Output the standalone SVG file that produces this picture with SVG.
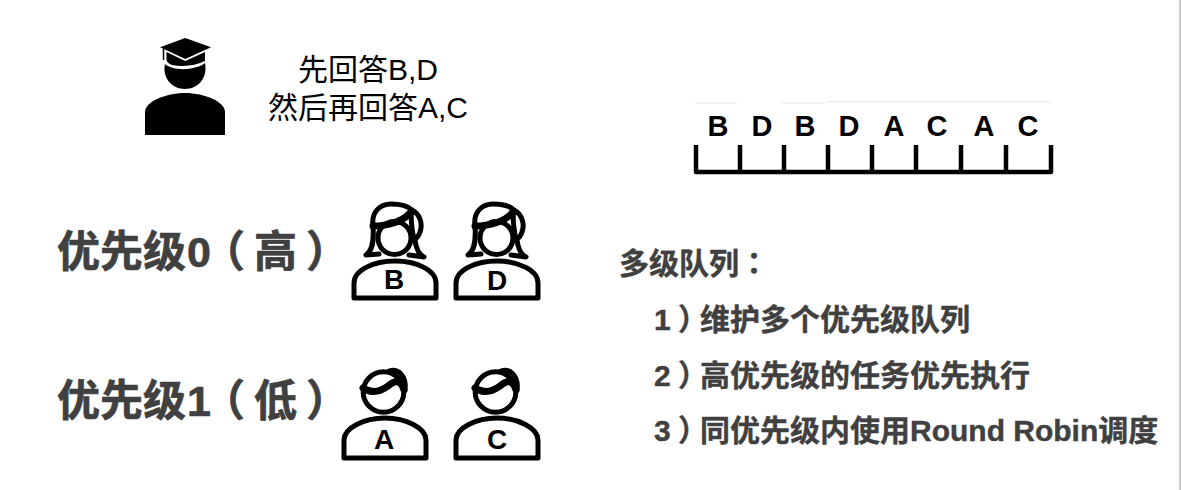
<svg xmlns="http://www.w3.org/2000/svg" width="1181" height="490" viewBox="0 0 1181 490">
<style>
text{font-family:"Liberation Sans","Noto Sans CJK SC",sans-serif}
.q{font-size:30px;fill:#000}
.big{font-size:43px;font-weight:700;fill:#404040;stroke:#404040;stroke-width:.7}
.mid{font-size:30px;font-weight:700;fill:#404040;stroke:#404040;stroke-width:.4}
.tag{font-size:28px;font-weight:700;fill:#000;text-anchor:middle}
.cell{font-size:29px;font-weight:700;fill:#000;text-anchor:middle}
.ol{fill:none;stroke:#000;stroke-width:5;stroke-linejoin:round;stroke-linecap:round}
.hair{fill:none;stroke:#000;stroke-width:5;stroke-linejoin:round;stroke-linecap:round}
.band{fill:none;stroke:#000;stroke-width:7;stroke-linejoin:round;stroke-linecap:round}
</style>
<defs>
<g id="woman">
<path class="ol" d="M354 298V283C354 270 374 261 395 261C416 261 436 270 436 283V298Z"/>
<circle class="ol" cx="394.500" cy="238" r="16.500"/>
<path class="band" d="M373 226C387 226 403 222 411 212"/>
<path class="hair" d="M373 226C371 211 381 204 391 204C400 204 407 205 412 210C420 214 423 224 420 232C419 236 417 238 414 240M412 210C410 218 412 230 414 240M373 226C374 240 373 250 366 255L379 254M415 240C416 248 418 254 424 257L409 255"/>
</g>
<g id="man">
<path class="ol" d="M344 458V440C344 428 364 418 385 418C406 418 426 428 426 440V458Z"/>
<circle class="ol" cx="383.500" cy="392" r="20.300"/>
<path class="band" d="M363 388C372 394 380 392 388 386C394 381 398 380 402 385L404 390"/>
<path class="hair" d="M389 371C398 368 407 376 405 390"/>
</g>
</defs>
<rect width="1181" height="490" fill="#fff"/>
<rect x="1179" y="0" width="2" height="490" fill="#c8c8c8"/>
<g id="teacher">
<path d="M185.300 38L211 47.300L185.300 59L160 47.300Z" fill="#000"/>
<path d="M163.500 48V60" stroke="#000" stroke-width="1.500"/>
<path d="M166.500 52L185.300 61L205 52V61Q190 68 172 65Q167 63 166.500 60Z" fill="#000"/>
<path d="M165 64C172 71 195 71 205 63C208 78 198 89 185 89C172 89 162 78 165 64Z" fill="#000"/>
<path d="M145 135V112C145 102 165 93 185 93C205 93 225 102 225 112V135Z" fill="#000"/>
</g>
<g id="teacher-text">
<text class="q" x="368" y="80" text-anchor="middle">先回答B,D</text>
<text class="q" x="368" y="118" text-anchor="middle">然后再回答A,C</text>
</g>
<g id="label-high"><text class="big" x="57 100 143 187 202 254 306" y="267">优先级0（高）</text></g>
<g id="label-low"><text class="big" x="57 100 143 187 202 254 306" y="416">优先级1（低）</text></g>
<g id="user-b"><use href="#woman"/><text class="tag" x="394" y="289">B</text></g>
<g id="user-d"><use href="#woman" x="102"/><text class="tag" x="497" y="290">D</text></g>
<g id="user-a"><use href="#man"/><text class="tag" x="384" y="449">A</text></g>
<g id="user-c"><use href="#man" x="112"/><text class="tag" x="497" y="449">C</text></g>
<g id="queue">
<path d="M696 145V172H1051V145M740 145V172M784 145V172M828 145V172M872 145V172M916 145V172M961 145V172M1006 145V172" fill="none" stroke="#000" stroke-width="4.500" stroke-linejoin="round"/>
<path d="M695 103H737M782 103H825M828 102H916M916 102H1051" stroke="#e4e4e4" stroke-width="1"/>
<text class="cell" x="718" y="136">B</text>
<text class="cell" x="762" y="136">D</text>
<text class="cell" x="805" y="136">B</text>
<text class="cell" x="849" y="136">D</text>
<text class="cell" x="894" y="136">A</text>
<text class="cell" x="937" y="136">C</text>
<text class="cell" x="984" y="136">A</text>
<text class="cell" x="1028" y="136">C</text>
</g>
<g id="notes">
<text class="mid" x="619" y="274">多级队列<tspan style="font-family:'Noto Sans CJK TC',sans-serif">：</tspan></text>
<text class="mid" x="654 678 700" y="330">1）维护多个优先级队列</text>
<text class="mid" x="654 678 700" y="386">2）高优先级的任务优先执行</text>
<text class="mid" x="654 678 700" y="441">3）同优先级内使用Round Robin调度</text>
</g>
</svg>
